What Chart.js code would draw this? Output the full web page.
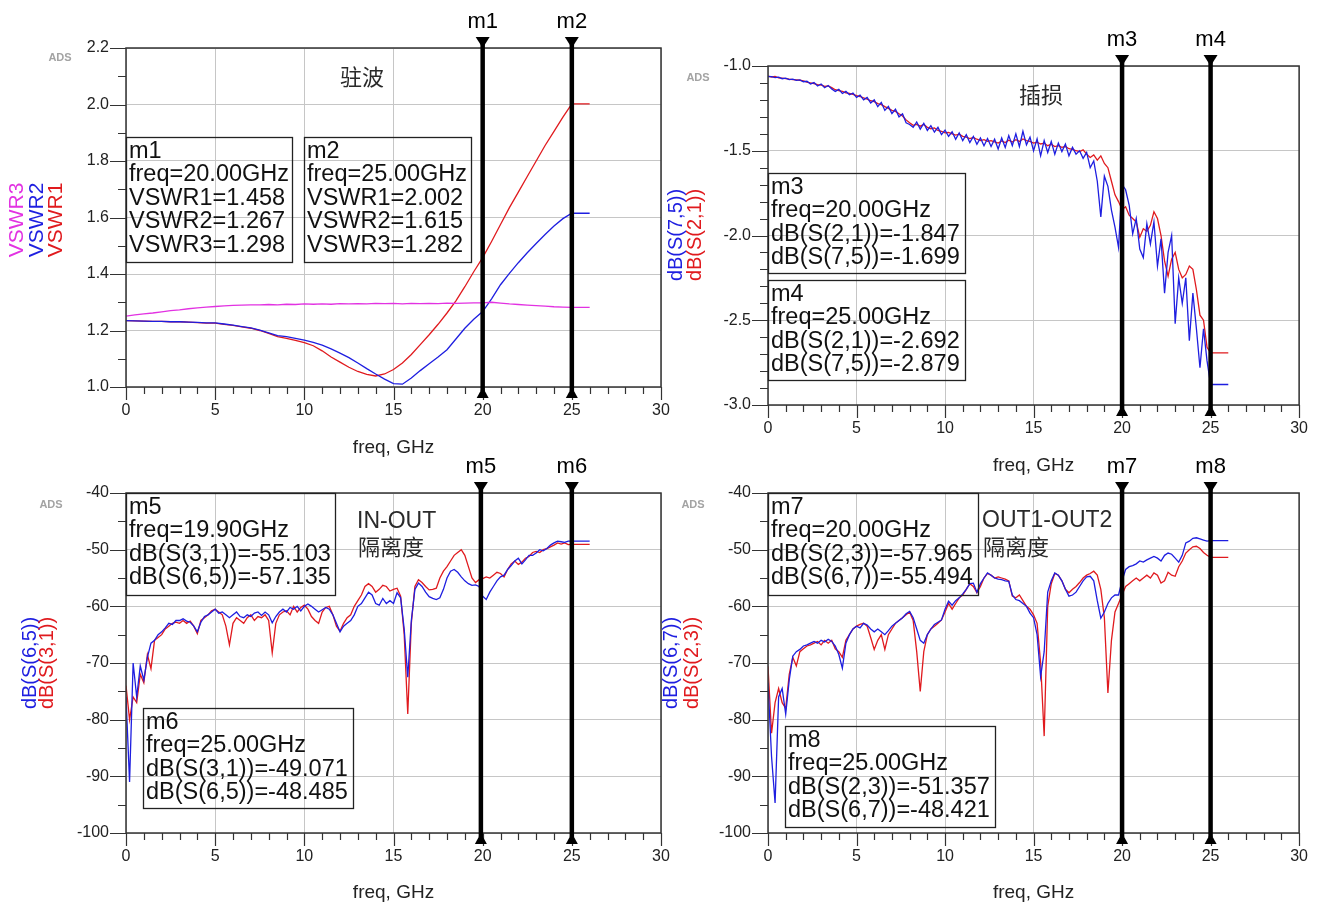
<!DOCTYPE html>
<html>
<head>
<meta charset="utf-8">
<script src="https://cdn.jsdelivr.net/npm/chart.js@4.4.1/dist/chart.umd.min.js"></script>
<style>
  body { margin: 0; background: #fff; }
  #wrap { position: relative; width: 1322px; height: 905px; overflow: hidden; }
  canvas { position: absolute; left: 0; top: 0; }
</style>
</head>
<body>
<div id="wrap">
  <canvas id="vswr" width="1322" height="905"></canvas>
  <canvas id="loss" width="1322" height="905"></canvas>
  <canvas id="isoIn" width="1322" height="905"></canvas>
  <canvas id="isoOut" width="1322" height="905"></canvas>
</div>
<script>
// ---- data ----
const FREQ_VSWR = [0,0.5,1,1.5,2,2.5,3,3.5,4,4.5,5,5.5,6,6.5,7,7.5,8,8.5,9,9.5,
  10,10.5,11,11.5,12,12.5,13,13.5,14,14.5,15,15.5,16,16.5,17,17.5,18,18.5,19,19.5,
  20,20.5,21,21.5,22,22.5,23,23.5,24,24.5,25,26];

const VSWR1 = [1.235,1.234,1.233,1.232,1.232,1.231,1.231,1.230,1.228,1.226,
  1.226,1.222,1.218,1.213,1.208,1.200,1.190,1.178,1.172,1.165,
  1.157,1.146,1.128,1.106,1.088,1.070,1.055,1.045,1.039,1.046,
  1.062,1.085,1.115,1.150,1.185,1.222,1.262,1.305,1.355,1.408,
  1.458,1.515,1.575,1.635,1.690,1.745,1.800,1.855,1.905,1.955,2.002,2.002];
const VSWR2 = [1.235,1.234,1.233,1.232,1.232,1.231,1.231,1.230,1.229,1.227,
  1.227,1.223,1.219,1.214,1.209,1.201,1.192,1.182,1.178,1.172,
  1.166,1.158,1.148,1.135,1.120,1.104,1.085,1.065,1.046,1.028,
  1.012,1.010,1.032,1.058,1.082,1.106,1.132,1.170,1.208,1.240,
  1.267,1.312,1.362,1.402,1.440,1.475,1.508,1.540,1.570,1.596,1.615,1.615];
const VSWR3 = [1.251,1.255,1.259,1.262,1.266,1.270,1.273,1.277,1.280,1.283,
  1.285,1.287,1.289,1.290,1.291,1.291,1.292,1.291,1.293,1.292,
  1.294,1.293,1.294,1.293,1.295,1.294,1.295,1.294,1.296,1.295,
  1.296,1.294,1.296,1.295,1.296,1.295,1.297,1.296,1.297,1.298,
  1.298,1.300,1.297,1.294,1.292,1.290,1.288,1.286,1.284,1.283,1.282,1.282];

const FREQ_FINE = [0,0.2,0.4,0.6,0.8,1,1.2,1.4,1.6,1.8,
  2,2.2,2.4,2.6,2.8,3,3.2,3.4,3.6,3.8,
  4,4.2,4.4,4.6,4.8,5,5.2,5.4,5.6,5.8,
  6,6.2,6.4,6.6,6.8,7,7.2,7.4,7.6,7.8,
  8,8.2,8.4,8.6,8.8,9,9.2,9.4,9.6,9.8,
  10,10.2,10.4,10.6,10.8,11,11.2,11.4,11.6,11.8,
  12,12.2,12.4,12.6,12.8,13,13.2,13.4,13.6,13.8,
  14,14.2,14.4,14.6,14.8,15,15.2,15.4,15.6,15.8,
  16,16.2,16.4,16.6,16.8,17,17.2,17.4,17.6,17.8,
  18,18.2,18.4,18.6,18.8,19,19.2,19.4,19.6,19.8,
  20,20.2,20.4,20.6,20.8,21,21.2,21.4,21.6,21.8,
  22,22.2,22.4,22.6,22.8,23,23.2,23.4,23.6,23.8,
  24,24.2,24.4,24.6,24.8,25,26];

// insertion loss
const S21 = [-1.060,-1.065,-1.062,-1.070,-1.072,-1.074,-1.078,-1.080,-1.082,-1.084,
  -1.088,-1.095,-1.100,-1.104,-1.110,-1.112,-1.120,-1.118,-1.128,-1.140,
  -1.145,-1.150,-1.158,-1.162,-1.168,-1.175,-1.180,-1.188,-1.195,-1.205,
  -1.210,-1.222,-1.228,-1.240,-1.250,-1.262,-1.268,-1.282,-1.295,-1.318,
  -1.335,-1.350,-1.345,-1.355,-1.345,-1.362,-1.370,-1.365,-1.380,-1.385,
  -1.395,-1.392,-1.400,-1.408,-1.402,-1.415,-1.420,-1.428,-1.422,-1.432,
  -1.440,-1.435,-1.445,-1.440,-1.448,-1.455,-1.442,-1.452,-1.438,-1.448,
  -1.435,-1.445,-1.430,-1.440,-1.445,-1.455,-1.450,-1.460,-1.455,-1.470,
  -1.462,-1.475,-1.470,-1.480,-1.475,-1.488,-1.492,-1.500,-1.505,-1.495,
  -1.520,-1.540,-1.525,-1.555,-1.530,-1.575,-1.600,-1.680,-1.760,-1.800,
  -1.847,-1.830,-1.880,-1.900,-1.920,-2.010,-1.960,-1.975,-1.940,-1.860,
  -1.900,-2.000,-2.150,-2.240,-2.140,-2.100,-2.200,-2.250,-2.230,-2.180,
  -2.200,-2.320,-2.470,-2.500,-2.660,-2.692,-2.692];
const S75 = [-1.062,-1.063,-1.068,-1.066,-1.075,-1.072,-1.080,-1.078,-1.085,-1.082,
  -1.093,-1.090,-1.106,-1.098,-1.118,-1.106,-1.128,-1.115,-1.135,-1.150,
  -1.138,-1.162,-1.150,-1.170,-1.160,-1.185,-1.172,-1.200,-1.185,-1.218,
  -1.200,-1.240,-1.215,-1.262,-1.238,-1.280,-1.255,-1.300,-1.282,-1.335,
  -1.345,-1.362,-1.330,-1.372,-1.338,-1.380,-1.352,-1.390,-1.362,-1.405,
  -1.378,-1.415,-1.388,-1.432,-1.395,-1.440,-1.405,-1.452,-1.415,-1.462,
  -1.425,-1.470,-1.428,-1.475,-1.432,-1.490,-1.425,-1.480,-1.410,-1.470,
  -1.400,-1.475,-1.385,-1.465,-1.420,-1.500,-1.430,-1.530,-1.440,-1.510,
  -1.445,-1.520,-1.455,-1.505,-1.460,-1.530,-1.480,-1.520,-1.500,-1.545,
  -1.510,-1.600,-1.560,-1.680,-1.890,-1.650,-1.710,-1.850,-1.950,-2.070,
  -1.699,-1.730,-1.820,-1.990,-1.900,-2.080,-2.130,-1.930,-2.050,-1.920,
  -2.180,-2.020,-2.340,-2.100,-2.000,-2.520,-2.250,-2.400,-2.250,-2.620,
  -2.340,-2.550,-2.780,-2.550,-2.740,-2.879,-2.879];

// IN-OUT isolation
const S31 = [-74.0,-80.0,-76.0,-77.0,-72.0,-73.5,-68.5,-71.0,-66.0,-65.5,
  -65.0,-64.0,-63.5,-63.0,-62.8,-63.0,-62.5,-63.0,-62.6,-63.5,
  -64.8,-62.5,-62.0,-61.5,-60.8,-60.5,-61.0,-61.5,-63.5,-66.8,
  -63.0,-62.0,-62.5,-63.0,-62.0,-61.5,-62.5,-61.8,-62.0,-61.5,
  -62.5,-68.2,-63.0,-61.5,-61.0,-60.8,-61.5,-60.0,-61.0,-60.2,
  -59.8,-60.5,-61.8,-62.5,-63.0,-61.0,-60.2,-60.0,-61.5,-63.5,
  -64.4,-63.0,-62.0,-61.5,-60.0,-59.0,-58.0,-56.5,-56.0,-56.5,
  -57.5,-57.0,-56.3,-56.5,-57.3,-57.0,-56.8,-58.2,-65.0,-79.0,
  -63.0,-56.5,-55.3,-55.8,-56.5,-57.1,-57.0,-56.8,-55.0,-53.8,
  -53.0,-52.0,-51.0,-50.5,-50.0,-51.0,-53.0,-55.0,-55.8,-55.3,
  -55.1,-54.8,-55.0,-54.5,-54.0,-54.2,-54.8,-53.5,-52.5,-52.0,
  -52.6,-52.2,-51.5,-51.2,-50.5,-50.3,-50.5,-50.0,-49.8,-49.5,
  -49.2,-48.8,-49.0,-48.8,-49.1,-49.071,-49.071];
const S65 = [-76.0,-91.0,-70.0,-76.0,-70.5,-73.0,-69.0,-66.5,-66.0,-65.0,
  -64.5,-63.8,-63.0,-63.2,-62.5,-62.5,-62.2,-62.6,-62.8,-63.5,
  -64.5,-62.8,-61.8,-61.5,-61.0,-60.5,-61.2,-61.0,-61.5,-62.0,
  -61.5,-61.0,-61.8,-62.0,-61.5,-61.8,-61.2,-61.0,-61.6,-61.0,
  -61.5,-62.9,-61.8,-61.0,-60.5,-61.0,-60.2,-60.5,-60.0,-60.8,
  -60.0,-59.6,-60.0,-60.5,-61.0,-60.6,-60.2,-60.5,-61.5,-63.0,
  -64.5,-63.5,-63.0,-62.5,-61.5,-60.0,-59.5,-58.5,-57.5,-58.0,
  -59.5,-59.8,-58.6,-59.5,-59.0,-59.5,-57.6,-58.5,-64.0,-72.5,
  -62.5,-57.0,-55.9,-56.5,-57.5,-58.3,-58.6,-58.8,-58.5,-57.0,
  -55.0,-53.8,-53.5,-54.0,-54.8,-55.5,-56.0,-56.3,-56.2,-56.5,
  -58.2,-58.8,-57.5,-56.5,-55.5,-54.8,-54.5,-53.5,-52.8,-52.0,
  -51.5,-52.5,-51.8,-51.0,-51.0,-50.6,-50.0,-50.2,-49.8,-49.2,
  -48.8,-48.5,-48.6,-48.7,-48.5,-48.485,-48.485];

// OUT1-OUT2 isolation
const S23 = [-70.6,-82.4,-77.0,-74.5,-77.0,-78.0,-72.0,-69.0,-70.5,-68.0,
  -67.5,-67.0,-66.8,-66.5,-66.2,-66.8,-66.0,-66.5,-66.0,-67.5,
  -68.0,-69.0,-66.0,-65.0,-64.0,-63.5,-63.2,-63.0,-63.5,-65.5,
  -67.6,-66.0,-65.0,-67.6,-65.0,-64.0,-63.0,-62.5,-62.0,-61.5,
  -61.0,-62.5,-68.0,-75.0,-68.0,-65.0,-64.0,-63.5,-63.0,-62.4,
  -61.0,-59.5,-60.5,-59.5,-58.5,-58.0,-57.0,-56.0,-56.5,-57.6,
  -56.5,-55.0,-54.2,-54.5,-55.0,-54.8,-55.0,-55.2,-55.5,-58.2,
  -58.5,-58.0,-59.0,-60.0,-60.5,-61.5,-63.0,-70.0,-82.9,-60.0,
  -56.0,-54.2,-54.5,-55.5,-57.0,-57.6,-57.0,-56.5,-55.8,-55.0,
  -54.5,-54.2,-53.8,-54.5,-57.0,-62.0,-75.3,-66.0,-61.0,-59.5,
  -57.965,-56.5,-56.0,-55.5,-55.0,-55.5,-55.0,-54.5,-55.0,-54.1,
  -54.5,-55.9,-55.5,-54.0,-54.5,-54.7,-53.0,-52.0,-50.6,-50.0,
  -49.5,-49.4,-49.8,-50.5,-51.0,-51.357,-51.357];
const S67 = [-73.5,-86.5,-94.7,-76.0,-74.5,-79.0,-73.0,-68.8,-68.0,-67.6,
  -67.0,-66.8,-66.5,-66.2,-66.5,-66.0,-66.3,-65.8,-66.2,-67.0,
  -68.5,-70.9,-66.5,-65.0,-64.0,-63.5,-63.8,-63.0,-63.3,-64.0,
  -64.5,-64.0,-64.5,-65.0,-64.3,-63.5,-63.0,-62.5,-62.0,-61.3,
  -60.9,-62.0,-64.0,-66.0,-66.5,-65.0,-64.0,-63.2,-62.8,-62.4,
  -60.5,-59.1,-59.8,-59.0,-58.5,-57.8,-57.0,-56.0,-55.9,-57.5,
  -56.0,-55.0,-54.1,-54.5,-55.0,-55.2,-55.3,-55.5,-55.6,-58.0,
  -58.8,-59.0,-59.5,-60.0,-61.2,-62.0,-65.0,-72.4,-68.0,-57.5,
  -55.5,-54.1,-54.5,-55.5,-57.0,-58.2,-58.0,-57.5,-56.5,-55.5,
  -54.8,-54.7,-55.5,-59.0,-62.1,-61.0,-59.5,-58.5,-58.0,-58.0,
  -55.494,-53.5,-53.0,-52.8,-52.5,-52.0,-52.2,-51.8,-51.5,-51.2,
  -51.5,-52.0,-51.0,-50.6,-50.8,-51.5,-52.2,-51.0,-48.8,-48.5,
  -48.0,-47.9,-48.1,-48.3,-48.5,-48.421,-48.421];

const X_TICKS = [0, 5, 10, 15, 20, 25, 30];

// ---- styling ----
const RED = 'rgb(224,26,30)';
const BLUE = 'rgb(30,30,224)';
const MAGENTA = 'rgb(226,50,226)';
const LATIN = '"Liberation Sans", Arial, sans-serif';
const CJK = '"Noto Sans CJK SC", sans-serif';

// frame, tick marks, marker lines, readouts and labels
const adsDecor = {
  id: 'adsDecor',
  afterDatasetsDraw(chart, args, o) {
    const { ctx, chartArea: a } = chart;
    const xs = chart.scales.x, ys = chart.scales.y;
    ctx.save();

    ctx.strokeStyle = '#333';
    ctx.lineWidth = 1.5;
    ctx.strokeRect(a.left, a.top, a.right - a.left, a.bottom - a.top);

    ctx.lineWidth = 1.2;
    ctx.beginPath();
    for (let v = 0; v <= 30; v++) {
      const px = Math.round(xs.getPixelForValue(v)) + 0.5;
      ctx.moveTo(px, a.bottom);
      ctx.lineTo(px, a.bottom + (v % 5 === 0 ? 13 : 7));
    }
    const n = Math.round((ys.max - ys.min) / o.minorStep);
    for (let i = 0; i <= n; i++) {
      const py = Math.round(ys.getPixelForValue(ys.min + i * o.minorStep)) + 0.5;
      ctx.moveTo(a.left, py);
      ctx.lineTo(a.left - (i % o.perMajor === 0 ? 16 : 8), py);
    }
    ctx.stroke();

    // marker readout boxes
    ctx.strokeStyle = '#222';
    ctx.lineWidth = 1.3;
    ctx.fillStyle = '#111';
    ctx.font = '23.5px ' + LATIN;
    ctx.textBaseline = 'middle';
    ctx.textAlign = 'left';
    o.boxes.forEach(b => {
      ctx.strokeRect(b.x + 0.5, b.y + 0.5, b.w, b.h);
      b.lines.forEach((t, i) => ctx.fillText(t, b.x + 3, b.y + 14.5 + i * 23.5));
    });

    // marker lines with triangles
    ctx.fillStyle = '#000';
    ctx.strokeStyle = '#000';
    ctx.font = '22px ' + LATIN;
    ctx.textAlign = 'center';
    o.markers.forEach(m => {
      const px = xs.getPixelForValue(m.x);
      ctx.lineWidth = 4.5;
      ctx.beginPath();
      ctx.moveTo(px, a.top - 8);
      ctx.lineTo(px, a.bottom + 4);
      ctx.stroke();
      ctx.beginPath();
      ctx.moveTo(px - 7, a.top - 11);
      ctx.lineTo(px + 7, a.top - 11);
      ctx.lineTo(px, a.top);
      ctx.closePath();
      ctx.fill();
      ctx.beginPath();
      ctx.moveTo(px - 6, a.bottom + 11);
      ctx.lineTo(px + 6, a.bottom + 11);
      ctx.lineTo(px, a.bottom);
      ctx.closePath();
      ctx.fill();
      ctx.fillText(m.name, px, a.top - 26);
    });

    // x title
    ctx.fillStyle = '#222';
    ctx.font = '19px ' + LATIN;
    ctx.fillText('freq, GHz', (a.left + a.right) / 2, o.xTitleY);

    // stacked coloured y titles
    o.yTitles.forEach(t => {
      ctx.save();
      ctx.translate(t.x, o.yTitleY);
      ctx.rotate(-Math.PI / 2);
      ctx.fillStyle = t.color;
      ctx.font = t.size + 'px ' + LATIN;
      ctx.textAlign = 'center';
      ctx.fillText(t.text, 0, 0);
      ctx.restore();
    });

    // ADS tag
    ctx.fillStyle = '#a3a3a3';
    ctx.font = 'bold 11px ' + LATIN;
    ctx.textAlign = 'center';
    ctx.fillText('ADS', o.ads[0], o.ads[1]);

    // notes
    o.notes.forEach(t => {
      ctx.fillStyle = '#2a2a2a';
      ctx.font = t.font;
      ctx.textAlign = t.align || 'left';
      ctx.fillText(t.text, t.x, t.y);
    });

    ctx.restore();
  }
};

function panel(id, plot, yOpt, series, decor) {
  const yAxisW = 60, xAxisH = 40;
  new Chart(document.getElementById(id), {
    type: 'line',
    data: {
      labels: series.freq,
      datasets: series.sets.map(s => ({
        data: s.data,
        borderColor: s.color,
        borderWidth: 1.3,
        pointRadius: 0,
        tension: 0,
        fill: false
      }))
    },
    options: {
      responsive: false,
      animation: false,
      events: [],
      layout: {
        padding: {
          left: plot.l - yAxisW,
          top: plot.t,
          right: 1322 - plot.r,
          bottom: 905 - plot.b - xAxisH
        }
      },
      plugins: { legend: { display: false }, tooltip: { enabled: false }, adsDecor: decor },
      scales: {
        x: {
          type: 'linear',
          min: 0,
          max: 30,
          afterFit: s => { s.height = xAxisH; },
          afterBuildTicks: s => { s.ticks = X_TICKS.map(v => ({ value: v })); },
          ticks: { padding: 14, color: '#222', font: { family: LATIN, size: 16 }, maxRotation: 0, autoSkip: false },
          grid: { color: '#c6c6c6', lineWidth: 1, drawTicks: false },
          border: { display: false }
        },
        y: {
          min: yOpt.min,
          max: yOpt.max,
          afterFit: s => { s.width = yAxisW; },
          ticks: {
            stepSize: yOpt.step,
            padding: 17,
            color: '#222',
            font: { family: LATIN, size: 16 },
            callback: v => v.toFixed(yOpt.digits)
          },
          grid: { color: '#c6c6c6', lineWidth: 1, drawTicks: false },
          border: { display: false }
        }
      }
    },
    plugins: [adsDecor]
  });
}

// 驻波
panel('vswr', { l: 126, t: 48, r: 661, b: 387 },
  { min: 1.0, max: 2.2, step: 0.2, digits: 1 },
  { freq: FREQ_VSWR, sets: [
    { data: VSWR3, color: MAGENTA },
    { data: VSWR2, color: BLUE },
    { data: VSWR1, color: RED }
  ] },
  {
    minorStep: 0.1, perMajor: 2,
    markers: [{ name: 'm1', x: 20 }, { name: 'm2', x: 25 }],
    boxes: [
      { x: 126, y: 137, w: 166, h: 125, lines: ['m1', 'freq=20.00GHz', 'VSWR1=1.458', 'VSWR2=1.267', 'VSWR3=1.298'] },
      { x: 304, y: 137, w: 167, h: 125, lines: ['m2', 'freq=25.00GHz', 'VSWR1=2.002', 'VSWR2=1.615', 'VSWR3=1.282'] }
    ],
    xTitleY: 448,
    yTitleY: 220,
    yTitles: [
      { text: 'VSWR3', color: MAGENTA, x: 17, size: 21 },
      { text: 'VSWR2', color: BLUE, x: 37, size: 21 },
      { text: 'VSWR1', color: RED, x: 56, size: 21 }
    ],
    ads: [60, 58],
    notes: [{ text: '驻波', x: 362, y: 77, font: '22px ' + CJK, align: 'center' }]
  });

// 插损
panel('loss', { l: 768, t: 66, r: 1303, b: 405 },
  { min: -3.0, max: -1.0, step: 0.5, digits: 1 },
  { freq: FREQ_FINE, sets: [
    { data: S75, color: BLUE },
    { data: S21, color: RED }
  ] },
  {
    minorStep: 0.1, perMajor: 5,
    markers: [{ name: 'm3', x: 20 }, { name: 'm4', x: 25 }],
    boxes: [
      { x: 768, y: 173, w: 197, h: 100, lines: ['m3', 'freq=20.00GHz', 'dB(S(2,1))=-1.847', 'dB(S(7,5))=-1.699'] },
      { x: 768, y: 280, w: 197, h: 100, lines: ['m4', 'freq=25.00GHz', 'dB(S(2,1))=-2.692', 'dB(S(7,5))=-2.879'] }
    ],
    xTitleY: 466,
    yTitleY: 235,
    yTitles: [
      { text: 'dB(S(7,5))', color: BLUE, x: 676, size: 20 },
      { text: 'dB(S(2,1))', color: RED, x: 695, size: 20 }
    ],
    ads: [698, 78],
    notes: [{ text: '插损', x: 1041, y: 95, font: '22px ' + CJK, align: 'center' }]
  });

// IN-OUT 隔离度
panel('isoIn', { l: 126, t: 493, r: 661, b: 833 },
  { min: -100, max: -40, step: 10, digits: 0 },
  { freq: FREQ_FINE, sets: [
    { data: S65, color: BLUE },
    { data: S31, color: RED }
  ] },
  {
    minorStep: 5, perMajor: 2,
    markers: [{ name: 'm5', x: 19.9 }, { name: 'm6', x: 25 }],
    boxes: [
      { x: 126, y: 493, w: 209, h: 102, lines: ['m5', 'freq=19.90GHz', 'dB(S(3,1))=-55.103', 'dB(S(6,5))=-57.135'] },
      { x: 143, y: 708, w: 210, h: 100, lines: ['m6', 'freq=25.00GHz', 'dB(S(3,1))=-49.071', 'dB(S(6,5))=-48.485'] }
    ],
    xTitleY: 893,
    yTitleY: 663,
    yTitles: [
      { text: 'dB(S(6,5))', color: BLUE, x: 30, size: 20 },
      { text: 'dB(S(3,1))', color: RED, x: 47, size: 20 }
    ],
    ads: [51, 505],
    notes: [
      { text: 'IN-OUT', x: 357, y: 522, font: '23px ' + LATIN },
      { text: '隔离度', x: 358, y: 547, font: '22px ' + CJK }
    ]
  });

// OUT1-OUT2 隔离度
panel('isoOut', { l: 768, t: 493, r: 1303, b: 833 },
  { min: -100, max: -40, step: 10, digits: 0 },
  { freq: FREQ_FINE, sets: [
    { data: S67, color: BLUE },
    { data: S23, color: RED }
  ] },
  {
    minorStep: 5, perMajor: 2,
    markers: [{ name: 'm7', x: 20 }, { name: 'm8', x: 25 }],
    boxes: [
      { x: 768, y: 493, w: 210, h: 102, lines: ['m7', 'freq=20.00GHz', 'dB(S(2,3))=-57.965', 'dB(S(6,7))=-55.494'] },
      { x: 785, y: 726, w: 210, h: 101, lines: ['m8', 'freq=25.00GHz', 'dB(S(2,3))=-51.357', 'dB(S(6,7))=-48.421'] }
    ],
    xTitleY: 893,
    yTitleY: 663,
    yTitles: [
      { text: 'dB(S(6,7))', color: BLUE, x: 671, size: 20 },
      { text: 'dB(S(2,3))', color: RED, x: 692, size: 20 }
    ],
    ads: [693, 505],
    notes: [
      { text: 'OUT1-OUT2', x: 982, y: 521, font: '23px ' + LATIN },
      { text: '隔离度', x: 983, y: 547, font: '22px ' + CJK }
    ]
  });
</script>
</body>
</html>
